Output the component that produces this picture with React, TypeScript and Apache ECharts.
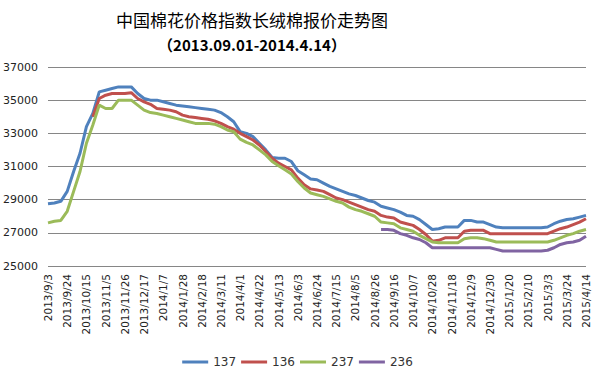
import React, { useEffect, useRef } from "react";
import * as echarts from "echarts";

const categories: string[] = [
  "2013/9/3", "2013/9/10", "2013/9/17", "2013/9/24", "2013/10/1", "2013/10/8", "2013/10/15", "2013/10/22", "2013/10/29",
  "2013/11/5", "2013/11/12", "2013/11/19", "2013/11/26", "2013/12/3", "2013/12/10", "2013/12/17", "2013/12/24", "2013/12/31",
  "2014/1/7", "2014/1/14", "2014/1/21", "2014/1/28", "2014/2/4", "2014/2/11", "2014/2/18", "2014/2/25", "2014/3/4",
  "2014/3/11", "2014/3/18", "2014/3/25", "2014/4/1", "2014/4/8", "2014/4/15", "2014/4/22", "2014/4/29", "2014/5/6",
  "2014/5/13", "2014/5/20", "2014/5/27", "2014/6/3", "2014/6/10", "2014/6/17", "2014/6/24", "2014/7/1", "2014/7/8",
  "2014/7/15", "2014/7/22", "2014/7/29", "2014/8/5", "2014/8/12", "2014/8/19", "2014/8/26", "2014/9/2", "2014/9/9",
  "2014/9/16", "2014/9/23", "2014/9/30", "2014/10/7", "2014/10/14", "2014/10/21", "2014/10/28", "2014/11/4", "2014/11/11",
  "2014/11/18", "2014/11/25", "2014/12/2", "2014/12/9", "2014/12/16", "2014/12/23", "2014/12/30", "2015/1/6", "2015/1/13",
  "2015/1/20", "2015/1/27", "2015/2/3", "2015/2/10", "2015/2/17", "2015/2/24", "2015/3/3", "2015/3/10", "2015/3/17",
  "2015/3/24", "2015/3/31", "2015/4/7", "2015/4/14",
];

const s137: (number | null)[] = [
  28750, 28800, 28900, 29500, 30700, 31800, 33400, 34200, 35500, 35600,
  35700, 35800, 35800, 35800, 35400, 35100, 35000, 35000, 34900, 34800,
  34700, 34650, 34600, 34550, 34500, 34450, 34400, 34250, 34000, 33700,
  33100, 33000, 32800, 32400, 32000, 31550, 31500, 31500, 31300, 30750,
  30500, 30250, 30200, 30000, 29800, 29650, 29500, 29350, 29250, 29100,
  28950, 28850, 28600, 28500, 28400, 28250, 28050, 28000, 27800, 27500,
  27200, 27250, 27350, 27350, 27350, 27750, 27750, 27650, 27650, 27500,
  27350, 27300, 27300, 27300, 27300, 27300, 27300, 27300, 27350, 27550,
  27700, 27800, 27850, 27950, 28050,
];

const s136: (number | null)[] = [
  null, null, null, null, null, null, null, 34000, 35100, 35300,
  35400, 35400, 35400, 35450, 35100, 34900, 34750, 34500, 34450, 34400,
  34300, 34100, 34000, 33950, 33900, 33850, 33750, 33600, 33400, 33250,
  33000, 32800, 32600, 32300, 31900, 31500, 31200, 31000, 30800, 30300,
  29900, 29650, 29580, 29500, 29300, 29100, 29000, 28850, 28700, 28550,
  28400, 28300, 28050, 27950, 27900, 27650, 27550, 27450, 27200, 26900,
  26500, 26550, 26700, 26700, 26700, 27100, 27150, 27150, 27150, 26950,
  26950, 26950, 26950, 26950, 26950, 26950, 26950, 26950, 26950, 27100,
  27250, 27350, 27500, 27650, 27850,
];

const s237: (number | null)[] = [
  27600, 27700, 27750, 28300, 29500, 30700, 32400, 33500, 34700, 34500,
  34500, 35000, 35000, 35000, 34700, 34400, 34250, 34200, 34100, 34000,
  33900, 33800, 33700, 33600, 33600, 33600, 33550, 33400, 33200, 33100,
  32650, 32450, 32300, 32000, 31700, 31300, 31050, 30800, 30550, 30100,
  29700, 29400, 29300, 29200, 29050, 28900, 28800, 28550, 28400, 28300,
  28150, 28000, 27650, 27600, 27550, 27300, 27200, 27100, 26850, 26650,
  26450, 26400, 26400, 26400, 26400, 26650, 26700, 26700, 26650, 26550,
  26450, 26450, 26450, 26450, 26450, 26450, 26450, 26450, 26450, 26550,
  26700, 26850, 26950, 27100, 27200,
];

const s236: (number | null)[] = [
  null, null, null, null, null, null, null, null, null, null,
  null, null, null, null, null, null, null, null, null, null,
  null, null, null, null, null, null, null, null, null, null,
  null, null, null, null, null, null, null, null, null, null,
  null, null, null, null, null, null, null, null, null, null,
  null, null, 27200, 27200, 27150, 26950, 26850, 26700, 26600, 26400,
  26100, 26100, 26100, 26100, 26100, 26100, 26100, 26100, 26100, 26100,
  26000, 25900, 25900, 25900, 25900, 25900, 25900, 25900, 25950, 26100,
  26300, 26400, 26450, 26550, 26800,
];

const seriesNames = ["137", "136", "237", "236"];
const seriesColors = ["#4F81BD", "#C0504D", "#9BBB59", "#8064A2"];
const yTicks = { min: 25000, max: 37000, interval: 2000 };

export default function App() {
  const ref = useRef<HTMLDivElement>(null);
  useEffect(() => {
    if (!ref.current) return;
    const chart = echarts.init(ref.current, null, { renderer: "svg" });
    const data = [s137, s136, s237, s236];
    chart.setOption({
      animation: false,
      backgroundColor: "#ffffff",
      title: {
        text: "中国棉花价格指数长绒棉报价走势图",
        subtext: "（2013.09.01-2014.4.14）",
        left: 247,
        textAlign: "center",
        top: 6,
        itemGap: 9,
        textStyle: {
          fontFamily: "Noto Sans CJK SC",
          fontSize: 17,
          fontWeight: "normal",
          color: "#000",
        },
        subtextStyle: {
          fontFamily: "Noto Sans CJK SC",
          fontSize: 15,
          fontWeight: "bold",
          color: "#000",
        },
      },
      legend: {
        data: seriesNames,
        left: "center",
        top: 351,
        icon: "rect",
        itemWidth: 26,
        itemHeight: 3,
        itemGap: 5,
        textStyle: { fontFamily: "DejaVu Sans", fontSize: 12, color: "#333" },
      },
      grid: { left: 47, right: 9, top: 67, bottom: 106 },
      xAxis: {
        type: "category",
        data: categories,
        boundaryGap: false,
        axisLine: { show: false },
        axisTick: { show: false },
        axisLabel: {
          interval: 2,
          rotate: 90,
          margin: 8,
          fontFamily: "DejaVu Sans",
          fontSize: 10.5,
          color: "#222",
        },
      },
      yAxis: {
        type: "value",
        min: yTicks.min,
        max: yTicks.max,
        interval: yTicks.interval,
        axisLine: { show: false },
        axisTick: { show: false },
        splitLine: { lineStyle: { color: "#868686", width: 1 } },
        axisLabel: {
          align: "left",
          margin: 45,
          fontFamily: "DejaVu Sans",
          fontSize: 11,
          color: "#222",
          formatter: (v: number) => String(v),
        },
      },
      series: seriesNames.map((name, i) => ({
        name,
        type: "line",
        data: data[i],
        showSymbol: false,
        symbol: "none",
        connectNulls: false,
        itemStyle: { color: seriesColors[i] },
        lineStyle: { color: seriesColors[i], width: 3 },
      })),
    });
    return () => chart.dispose();
  }, []);
  return <div ref={ref} style={{ width: 595, height: 372, position: "fixed", left: 0, top: 0 }} />;
}
